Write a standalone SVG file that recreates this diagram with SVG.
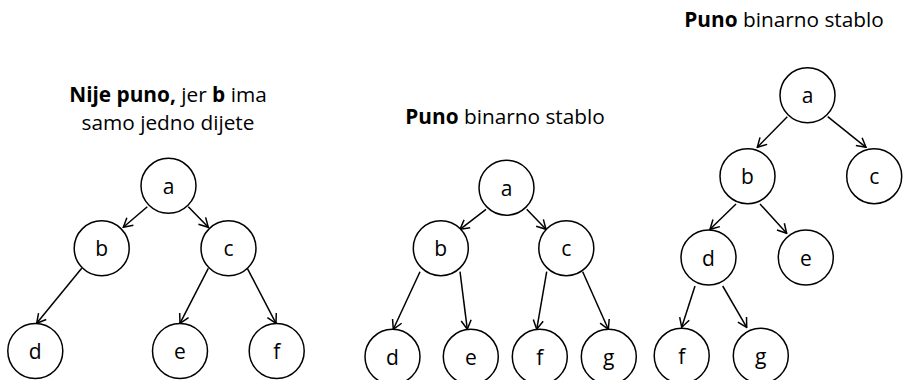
<svg xmlns="http://www.w3.org/2000/svg" width="903" height="380" viewBox="0 0 903 380">
<defs>
<style>
.n circle{fill:#fff;stroke:#000;stroke-width:1.5}
.n text{font-family:"Open Sans","Noto Sans",sans-serif;font-size:21px;text-anchor:middle;fill:#000}
.t{font-family:"Open Sans","Noto Sans",sans-serif;font-size:20.8px;text-anchor:middle;fill:#000}
.b{font-weight:bold}
#edges line{stroke:#000;stroke-width:1.5;marker-end:url(#arr)}
</style>
<marker id="arr" viewBox="-11 -6 12 12" markerWidth="12" markerHeight="12" refX="0" refY="0" orient="auto" markerUnits="userSpaceOnUse">
<path d="M-9,-5 L0,0 L-9,5" fill="none" stroke="#000" stroke-width="1.5"/>
</marker>
</defs>
<rect width="903" height="380" fill="#fff"/>
<g id="titles">
<text class="t" x="168" y="102"><tspan class="b">Nije puno,</tspan> jer <tspan class="b">b</tspan> ima</text>
<text class="t" x="168" y="130">samo jedno dijete</text>
<text class="t" x="505" y="124"><tspan class="b">Puno</tspan> binarno stablo</text>
<text class="t" x="784" y="27"><tspan class="b">Puno</tspan> binarno stablo</text>
</g>
<g id="edges">
<line x1="147.3" y1="206.7" x2="123.3" y2="227.3"/>
<line x1="188.3" y1="206.7" x2="208.3" y2="227.3"/>
<line x1="81.7" y1="268.3" x2="36.7" y2="323.3"/>
<line x1="208.3" y1="268.3" x2="180" y2="323.3"/>
<line x1="247.3" y1="268.3" x2="276" y2="323.3"/>
<line x1="486" y1="209.3" x2="460" y2="229.3"/>
<line x1="526.7" y1="209.3" x2="546" y2="229.3"/>
<line x1="420" y1="271.7" x2="393.3" y2="329.3"/>
<line x1="460" y1="271.7" x2="467.3" y2="329.3"/>
<line x1="546.7" y1="271.7" x2="536.7" y2="329.3"/>
<line x1="582.7" y1="271.7" x2="608.3" y2="329.3"/>
<line x1="787.3" y1="116.7" x2="757.3" y2="147.3"/>
<line x1="827.7" y1="116.7" x2="866" y2="147.3"/>
<line x1="736" y1="204" x2="710" y2="229.3"/>
<line x1="760" y1="204" x2="786.7" y2="233.3"/>
<line x1="695" y1="286" x2="681.7" y2="327.3"/>
<line x1="722.7" y1="286" x2="746.7" y2="327.3"/>
</g>
<g id="t1a" class="n"><circle cx="168.5" cy="185.8" r="27.5"/><text x="168.5" y="193.8">a</text></g>
<g id="t1b" class="n"><circle cx="101.7" cy="248.3" r="27.5"/><text x="101.7" y="256.3">b</text></g>
<g id="t1c" class="n"><circle cx="228.5" cy="248.3" r="27.5"/><text x="228.5" y="256.3">c</text></g>
<g id="t1d" class="n"><circle cx="35.3" cy="351" r="27.5"/><text x="35.3" y="359">d</text></g>
<g id="t1e" class="n"><circle cx="180" cy="351" r="27.5"/><text x="180" y="359">e</text></g>
<g id="t1f" class="n"><circle cx="276.7" cy="351" r="27.5"/><text x="276.7" y="359">f</text></g>
<g id="t2a" class="n"><circle cx="506.5" cy="187.7" r="27.5"/><text x="506.5" y="195.7">a</text></g>
<g id="t2b" class="n"><circle cx="440.8" cy="248.2" r="27.5"/><text x="440.8" y="256.2">b</text></g>
<g id="t2c" class="n"><circle cx="566.3" cy="248.2" r="27.5"/><text x="566.3" y="256.2">c</text></g>
<g id="t2d" class="n"><circle cx="392.5" cy="356.8" r="27.5"/><text x="392.5" y="364.8">d</text></g>
<g id="t2e" class="n"><circle cx="470.8" cy="356.8" r="27.5"/><text x="470.8" y="364.8">e</text></g>
<g id="t2f" class="n"><circle cx="539.8" cy="356.8" r="27.5"/><text x="539.8" y="364.8">f</text></g>
<g id="t2g" class="n"><circle cx="608.8" cy="356.8" r="27.5"/><text x="608.8" y="364.8">g</text></g>
<g id="t3a" class="n"><circle cx="807.5" cy="95.3" r="27.5"/><text x="807.5" y="103.3">a</text></g>
<g id="t3b" class="n"><circle cx="747.5" cy="176.2" r="27.5"/><text x="747.5" y="184.2">b</text></g>
<g id="t3c" class="n"><circle cx="874.2" cy="176.2" r="27.5"/><text x="874.2" y="184.2">c</text></g>
<g id="t3d" class="n"><circle cx="708.5" cy="257.5" r="27.5"/><text x="708.5" y="265.5">d</text></g>
<g id="t3e" class="n"><circle cx="805.8" cy="257.5" r="27.5"/><text x="805.8" y="265.5">e</text></g>
<g id="t3f" class="n"><circle cx="681.7" cy="355.8" r="27.5"/><text x="681.7" y="363.8">f</text></g>
<g id="t3g" class="n"><circle cx="760.8" cy="355.8" r="27.5"/><text x="760.8" y="363.8">g</text></g>
</svg>
